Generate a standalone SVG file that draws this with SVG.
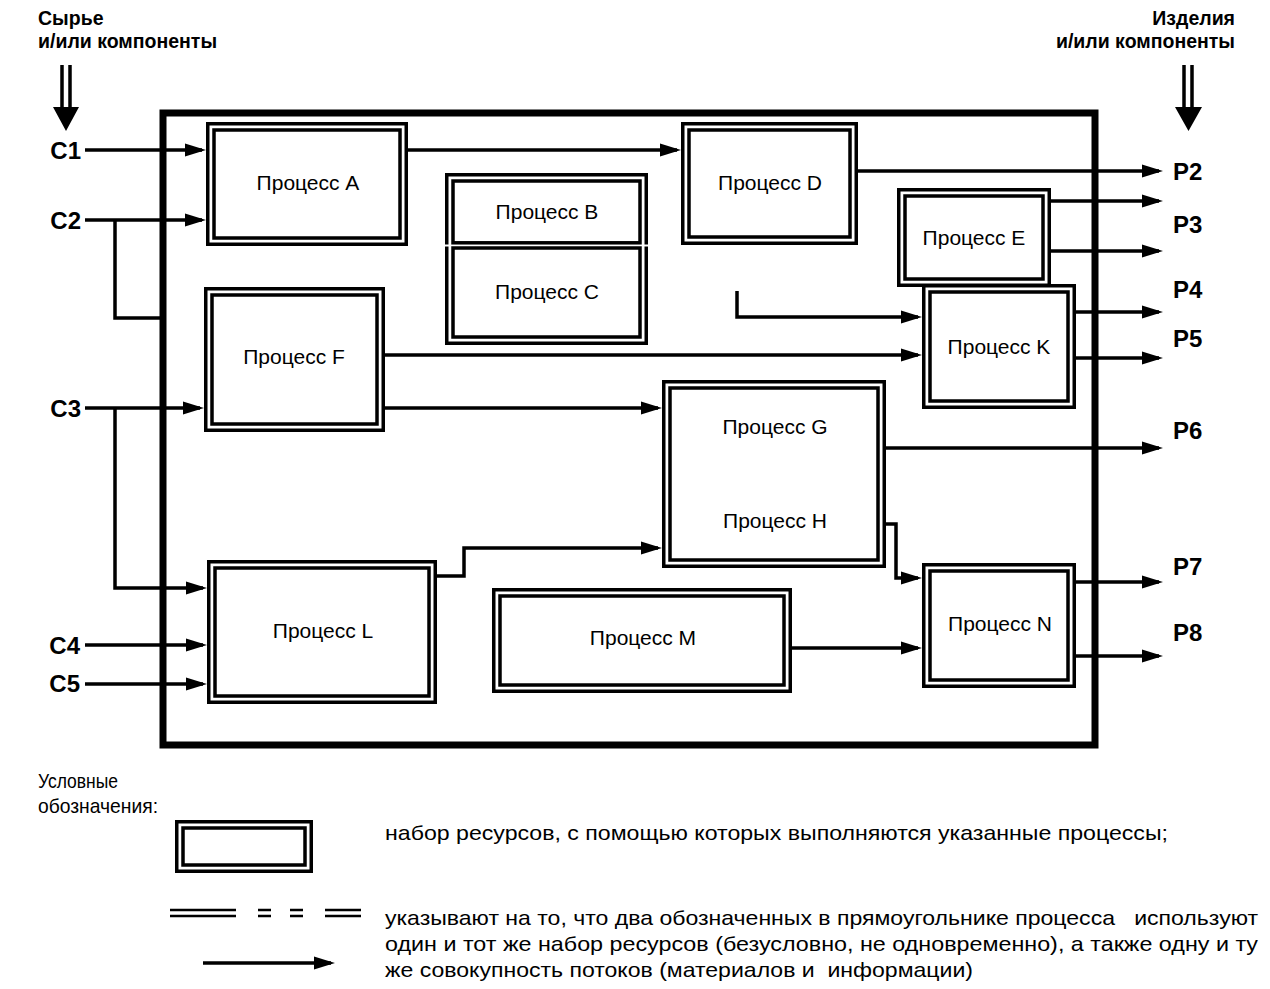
<svg xmlns="http://www.w3.org/2000/svg" width="1270" height="989" viewBox="0 0 1270 989">
<style>
text{font-family:"Liberation Sans",Arial,sans-serif;fill:#000}
.lbl{font-size:24px;font-weight:bold}
.hd{font-size:19.5px;font-weight:bold}
.pt{font-size:21px;text-anchor:middle}
.lg{font-size:21px}
.o{fill:none;stroke:#000;stroke-width:3.5}
.c{fill:none;stroke:#000;stroke-width:3.5}
.frame{fill:none;stroke:#000;stroke-width:7}
</style>
<defs>
<marker id="ar" markerUnits="userSpaceOnUse" markerWidth="22" markerHeight="14" refX="17" refY="7" orient="auto">
<path d="M0,0.5 L21,7 L0,13.5 Z" fill="#000"/>
</marker>
</defs>
<rect width="1270" height="989" fill="#fff"/>

<g id="headers">
<text class="hd" x="38" y="25">Сырье</text>
<text class="hd" x="38" y="48">и/или компоненты</text>
<text class="hd" x="1235" y="25" text-anchor="end">Изделия</text>
<text class="hd" x="1235" y="48" text-anchor="end">и/или компоненты</text>
<path d="M62,65 V108 M70,65 V108 M1184,65 V108 M1192,65 V108" stroke="#000" stroke-width="3.5" fill="none"/>
<path d="M53,107 H79 L66,131 Z M1175,107 H1202 L1188.5,131 Z" fill="#000"/>
</g>

<g id="frame"><rect class="frame" x="163" y="113" width="932" height="632"/></g>

<g id="labels">
<text class="lbl" x="81" y="159" text-anchor="end">C1</text>
<text class="lbl" x="81" y="229" text-anchor="end">C2</text>
<text class="lbl" x="81" y="417" text-anchor="end">C3</text>
<text class="lbl" x="80" y="654" text-anchor="end">C4</text>
<text class="lbl" x="80" y="692" text-anchor="end">C5</text>
<text class="lbl" x="1173" y="180">P2</text>
<text class="lbl" x="1173" y="233">P3</text>
<text class="lbl" x="1173" y="298">P4</text>
<text class="lbl" x="1173" y="347">P5</text>
<text class="lbl" x="1173" y="439">P6</text>
<text class="lbl" x="1173" y="575">P7</text>
<text class="lbl" x="1173" y="641">P8</text>
</g>

<g id="connectors">
<path class="c" d="M85,150 H202" marker-end="url(#ar)"/>
<path class="c" d="M85,220 H202" marker-end="url(#ar)"/>
<path class="c" d="M115,220 V318 H163"/>
<path class="c" d="M408,150 H677" marker-end="url(#ar)"/>
<path class="c" d="M858,171 H1159" marker-end="url(#ar)"/>
<path class="c" d="M1051,201 H1159" marker-end="url(#ar)"/>
<path class="c" d="M1051,251 H1159" marker-end="url(#ar)"/>
<path class="c" d="M737,291 V317 H918" marker-end="url(#ar)"/>
<path class="c" d="M385,355 H918" marker-end="url(#ar)"/>
<path class="c" d="M1076,312 H1159" marker-end="url(#ar)"/>
<path class="c" d="M1076,358 H1159" marker-end="url(#ar)"/>
<path class="c" d="M85,408 H200" marker-end="url(#ar)"/>
<path class="c" d="M115,408 V588 H203" marker-end="url(#ar)"/>
<path class="c" d="M385,408 H658" marker-end="url(#ar)"/>
<path class="c" d="M85,645 H203" marker-end="url(#ar)"/>
<path class="c" d="M85,684 H203" marker-end="url(#ar)"/>
<path class="c" d="M437,576 H464 V548 H658" marker-end="url(#ar)"/>
<path class="c" d="M886,448 H1159" marker-end="url(#ar)"/>
<path class="c" d="M886,524 H896 V578 H918" marker-end="url(#ar)"/>
<path class="c" d="M792,648 H918" marker-end="url(#ar)"/>
<path class="c" d="M1076,582 H1159" marker-end="url(#ar)"/>
<path class="c" d="M1076,656 H1159" marker-end="url(#ar)"/>
</g>

<g id="procA">
<rect class="o" x="207.75" y="123.75" width="198.5" height="120.5"/>
<rect class="o" x="214" y="130" width="186" height="108"/>
<text class="pt" x="308" y="190">Процесс A</text>
</g>
<g id="procBC">
<rect class="o" x="446.75" y="174.75" width="199.5" height="168.5"/>
<rect class="o" x="453" y="181" width="187" height="61.8"/>
<rect class="o" x="453" y="248" width="187" height="89"/>
<path d="M443,245.5 H451 M642,245.5 H650" stroke="#fff" stroke-width="2.2"/>
<text class="pt" x="547" y="219">Процесс B</text>
<text class="pt" x="547" y="299">Процесс C</text>
</g>
<g id="procD">
<rect class="o" x="682.75" y="123.75" width="173.5" height="119.5"/>
<rect class="o" x="689" y="130" width="161" height="107"/>
<text class="pt" x="770" y="190">Процесс D</text>
</g>
<g id="procE">
<rect class="o" x="898.75" y="189.75" width="150.5" height="95.5"/>
<rect class="o" x="905" y="196" width="138" height="83"/>
<text class="pt" x="974" y="245">Процесс E</text>
</g>
<g id="procK">
<rect class="o" x="923.75" y="285.75" width="150.5" height="121.5"/>
<rect class="o" x="930" y="292" width="138" height="109"/>
<text class="pt" x="999" y="354">Процесс K</text>
</g>
<g id="procF">
<rect class="o" x="205.75" y="288.75" width="177.5" height="141.5"/>
<rect class="o" x="212" y="295" width="165" height="129"/>
<text class="pt" x="294" y="364">Процесс F</text>
</g>
<g id="procGH">
<rect class="o" x="663.75" y="381.75" width="220.5" height="184.5"/>
<rect class="o" x="670" y="388" width="208" height="172"/>
<text class="pt" x="775" y="434">Процесс G</text>
<text class="pt" x="775" y="528">Процесс H</text>
</g>
<g id="procL">
<rect class="o" x="208.75" y="561.75" width="226.5" height="140.5"/>
<rect class="o" x="215" y="568" width="214" height="128"/>
<text class="pt" x="323" y="638">Процесс L</text>
</g>
<g id="procM">
<rect class="o" x="493.75" y="589.75" width="296.5" height="101.5"/>
<rect class="o" x="500" y="596" width="284" height="89"/>
<text class="pt" x="643" y="645">Процесс M</text>
</g>
<g id="procN">
<rect class="o" x="923.75" y="564.75" width="150.5" height="121.5"/>
<rect class="o" x="930" y="571" width="138" height="109"/>
<text class="pt" x="1000" y="631">Процесс N</text>
</g>

<g id="legend">
<text class="lg" x="38" y="788" textLength="80" lengthAdjust="spacingAndGlyphs">Условные</text>
<text class="lg" x="38" y="813" textLength="120" lengthAdjust="spacingAndGlyphs">обозначения:</text>
<rect class="o" x="176.75" y="821.75" width="134.5" height="49.5"/>
<rect class="o" x="183" y="828" width="122" height="37"/>
<text class="lg" x="385" y="840" textLength="783" lengthAdjust="spacingAndGlyphs">набор ресурсов, с помощью которых выполняются указанные процессы;</text>
<path d="M170,910 H236 M170,916 H236 M258,910 H271 M258,916 H271 M290,910 H303 M290,916 H303 M325,910 H361 M325,916 H361" stroke="#000" stroke-width="2.5" fill="none"/>
<path class="c" d="M203,963 H331" marker-end="url(#ar)"/>
<text class="lg" x="385" y="925" textLength="873" lengthAdjust="spacingAndGlyphs" xml:space="preserve">указывают на то, что два обозначенных в прямоугольнике процесса   используют</text>
<text class="lg" x="385" y="951" textLength="873" lengthAdjust="spacingAndGlyphs">один и тот же набор ресурсов (безусловно, не одновременно), а также одну и ту</text>
<text class="lg" x="385" y="977" textLength="588" lengthAdjust="spacingAndGlyphs" xml:space="preserve">же совокупность потоков (материалов и  информации)</text>
</g>
</svg>
